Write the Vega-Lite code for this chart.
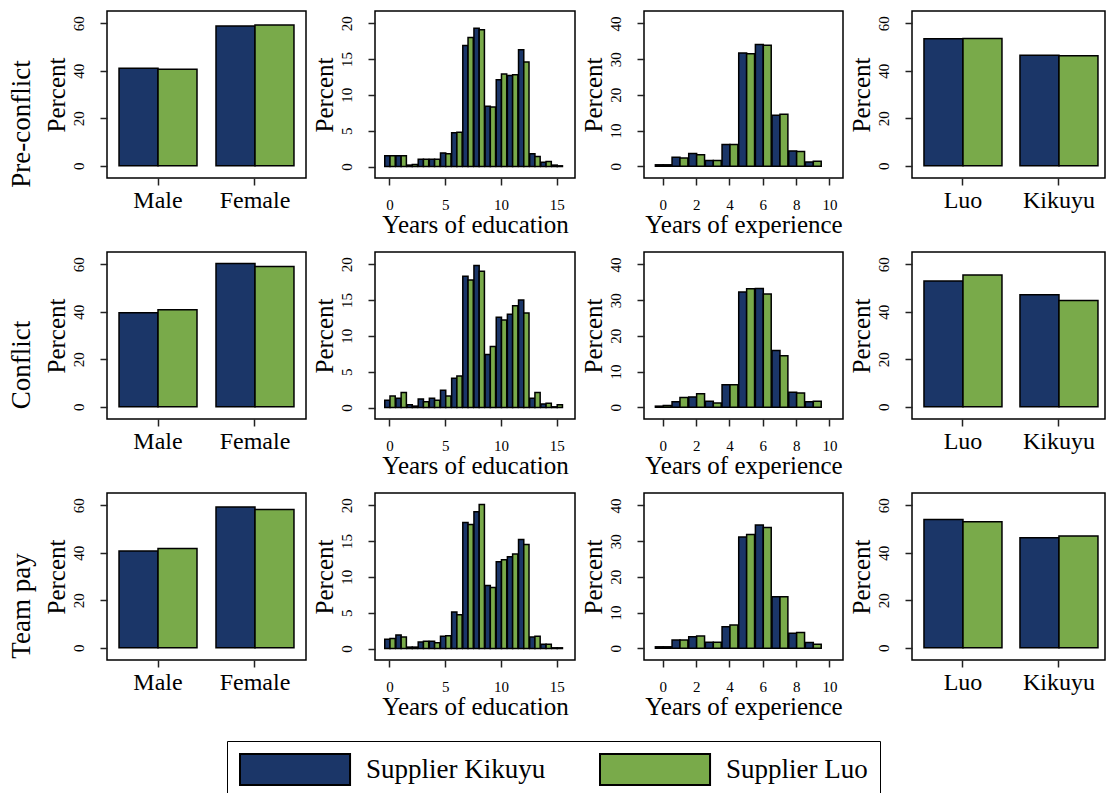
{
  "$schema": "https://vega.github.io/schema/vega-lite/v6.json",
  "padding": {"left": 8, "top": 10, "right": 0, "bottom": 0},
  "background": "white",
  "datasets": {
    "gender": [
      {"phase": "pre", "x": "Male", "group": "Supplier Kikuyu", "pct": 41.1},
      {"phase": "pre", "x": "Male", "group": "Supplier Luo", "pct": 40.6},
      {"phase": "pre", "x": "Female", "group": "Supplier Kikuyu", "pct": 58.9},
      {"phase": "pre", "x": "Female", "group": "Supplier Luo", "pct": 59.3},
      {"phase": "conflict", "x": "Male", "group": "Supplier Kikuyu", "pct": 39.6},
      {"phase": "conflict", "x": "Male", "group": "Supplier Luo", "pct": 40.9},
      {"phase": "conflict", "x": "Female", "group": "Supplier Kikuyu", "pct": 60.3},
      {"phase": "conflict", "x": "Female", "group": "Supplier Luo", "pct": 59.1},
      {"phase": "team", "x": "Male", "group": "Supplier Kikuyu", "pct": 40.7},
      {"phase": "team", "x": "Male", "group": "Supplier Luo", "pct": 41.8},
      {"phase": "team", "x": "Female", "group": "Supplier Kikuyu", "pct": 59.3},
      {"phase": "team", "x": "Female", "group": "Supplier Luo", "pct": 58.2}
    ],
    "eth": [
      {"phase": "pre", "x": "Luo", "group": "Supplier Kikuyu", "pct": 53.5},
      {"phase": "pre", "x": "Luo", "group": "Supplier Luo", "pct": 53.6},
      {"phase": "pre", "x": "Kikuyu", "group": "Supplier Kikuyu", "pct": 46.5},
      {"phase": "pre", "x": "Kikuyu", "group": "Supplier Luo", "pct": 46.3},
      {"phase": "conflict", "x": "Luo", "group": "Supplier Kikuyu", "pct": 53.0},
      {"phase": "conflict", "x": "Luo", "group": "Supplier Luo", "pct": 55.5},
      {"phase": "conflict", "x": "Kikuyu", "group": "Supplier Kikuyu", "pct": 47.2},
      {"phase": "conflict", "x": "Kikuyu", "group": "Supplier Luo", "pct": 44.8},
      {"phase": "team", "x": "Luo", "group": "Supplier Kikuyu", "pct": 54.0},
      {"phase": "team", "x": "Luo", "group": "Supplier Luo", "pct": 53.1},
      {"phase": "team", "x": "Kikuyu", "group": "Supplier Kikuyu", "pct": 46.3},
      {"phase": "team", "x": "Kikuyu", "group": "Supplier Luo", "pct": 47.1}
    ],
    "edu": [
      {"phase": "pre", "group": "Supplier Kikuyu", "x": 0, "pct": 1.5},
      {"phase": "pre", "group": "Supplier Kikuyu", "x": 1, "pct": 1.5},
      {"phase": "pre", "group": "Supplier Kikuyu", "x": 2, "pct": 0.2},
      {"phase": "pre", "group": "Supplier Kikuyu", "x": 3, "pct": 1.0},
      {"phase": "pre", "group": "Supplier Kikuyu", "x": 4, "pct": 1.0},
      {"phase": "pre", "group": "Supplier Kikuyu", "x": 5, "pct": 1.9},
      {"phase": "pre", "group": "Supplier Kikuyu", "x": 6, "pct": 4.7},
      {"phase": "pre", "group": "Supplier Kikuyu", "x": 7, "pct": 16.9},
      {"phase": "pre", "group": "Supplier Kikuyu", "x": 8, "pct": 19.3},
      {"phase": "pre", "group": "Supplier Kikuyu", "x": 9, "pct": 8.4},
      {"phase": "pre", "group": "Supplier Kikuyu", "x": 10, "pct": 12.1},
      {"phase": "pre", "group": "Supplier Kikuyu", "x": 11, "pct": 12.7},
      {"phase": "pre", "group": "Supplier Kikuyu", "x": 12, "pct": 16.3},
      {"phase": "pre", "group": "Supplier Kikuyu", "x": 13, "pct": 1.8},
      {"phase": "pre", "group": "Supplier Kikuyu", "x": 14, "pct": 0.6},
      {"phase": "pre", "group": "Supplier Kikuyu", "x": 15, "pct": 0.2},
      {"phase": "pre", "group": "Supplier Luo", "x": 0, "pct": 1.5},
      {"phase": "pre", "group": "Supplier Luo", "x": 1, "pct": 1.5},
      {"phase": "pre", "group": "Supplier Luo", "x": 2, "pct": 0.3},
      {"phase": "pre", "group": "Supplier Luo", "x": 3, "pct": 1.0},
      {"phase": "pre", "group": "Supplier Luo", "x": 4, "pct": 1.0},
      {"phase": "pre", "group": "Supplier Luo", "x": 5, "pct": 1.8},
      {"phase": "pre", "group": "Supplier Luo", "x": 6, "pct": 4.8},
      {"phase": "pre", "group": "Supplier Luo", "x": 7, "pct": 18.0},
      {"phase": "pre", "group": "Supplier Luo", "x": 8, "pct": 19.1},
      {"phase": "pre", "group": "Supplier Luo", "x": 9, "pct": 8.3},
      {"phase": "pre", "group": "Supplier Luo", "x": 10, "pct": 12.9},
      {"phase": "pre", "group": "Supplier Luo", "x": 11, "pct": 12.8},
      {"phase": "pre", "group": "Supplier Luo", "x": 12, "pct": 14.6},
      {"phase": "pre", "group": "Supplier Luo", "x": 13, "pct": 1.4},
      {"phase": "pre", "group": "Supplier Luo", "x": 14, "pct": 0.7},
      {"phase": "pre", "group": "Supplier Luo", "x": 15, "pct": 0.1},
      {"phase": "conflict", "group": "Supplier Kikuyu", "x": 0, "pct": 1.0},
      {"phase": "conflict", "group": "Supplier Kikuyu", "x": 1, "pct": 1.3},
      {"phase": "conflict", "group": "Supplier Kikuyu", "x": 2, "pct": 0.4},
      {"phase": "conflict", "group": "Supplier Kikuyu", "x": 3, "pct": 1.2},
      {"phase": "conflict", "group": "Supplier Kikuyu", "x": 4, "pct": 1.3},
      {"phase": "conflict", "group": "Supplier Kikuyu", "x": 5, "pct": 2.4},
      {"phase": "conflict", "group": "Supplier Kikuyu", "x": 6, "pct": 4.1},
      {"phase": "conflict", "group": "Supplier Kikuyu", "x": 7, "pct": 18.3},
      {"phase": "conflict", "group": "Supplier Kikuyu", "x": 8, "pct": 19.8},
      {"phase": "conflict", "group": "Supplier Kikuyu", "x": 9, "pct": 7.4},
      {"phase": "conflict", "group": "Supplier Kikuyu", "x": 10, "pct": 12.6},
      {"phase": "conflict", "group": "Supplier Kikuyu", "x": 11, "pct": 13.0},
      {"phase": "conflict", "group": "Supplier Kikuyu", "x": 12, "pct": 15.0},
      {"phase": "conflict", "group": "Supplier Kikuyu", "x": 13, "pct": 1.3},
      {"phase": "conflict", "group": "Supplier Kikuyu", "x": 14, "pct": 0.5},
      {"phase": "conflict", "group": "Supplier Kikuyu", "x": 15, "pct": 0.1},
      {"phase": "conflict", "group": "Supplier Luo", "x": 0, "pct": 1.6},
      {"phase": "conflict", "group": "Supplier Luo", "x": 1, "pct": 2.1},
      {"phase": "conflict", "group": "Supplier Luo", "x": 2, "pct": 0.2},
      {"phase": "conflict", "group": "Supplier Luo", "x": 3, "pct": 0.8},
      {"phase": "conflict", "group": "Supplier Luo", "x": 4, "pct": 1.0},
      {"phase": "conflict", "group": "Supplier Luo", "x": 5, "pct": 1.6},
      {"phase": "conflict", "group": "Supplier Luo", "x": 6, "pct": 4.4},
      {"phase": "conflict", "group": "Supplier Luo", "x": 7, "pct": 17.8},
      {"phase": "conflict", "group": "Supplier Luo", "x": 8, "pct": 19.0},
      {"phase": "conflict", "group": "Supplier Luo", "x": 9, "pct": 8.5},
      {"phase": "conflict", "group": "Supplier Luo", "x": 10, "pct": 12.2},
      {"phase": "conflict", "group": "Supplier Luo", "x": 11, "pct": 14.2},
      {"phase": "conflict", "group": "Supplier Luo", "x": 12, "pct": 13.2},
      {"phase": "conflict", "group": "Supplier Luo", "x": 13, "pct": 2.1},
      {"phase": "conflict", "group": "Supplier Luo", "x": 14, "pct": 0.6},
      {"phase": "conflict", "group": "Supplier Luo", "x": 15, "pct": 0.4},
      {"phase": "team", "group": "Supplier Kikuyu", "x": 0, "pct": 1.3},
      {"phase": "team", "group": "Supplier Kikuyu", "x": 1, "pct": 1.9},
      {"phase": "team", "group": "Supplier Kikuyu", "x": 2, "pct": 0.2},
      {"phase": "team", "group": "Supplier Kikuyu", "x": 3, "pct": 0.9},
      {"phase": "team", "group": "Supplier Kikuyu", "x": 4, "pct": 1.0},
      {"phase": "team", "group": "Supplier Kikuyu", "x": 5, "pct": 1.7},
      {"phase": "team", "group": "Supplier Kikuyu", "x": 6, "pct": 5.1},
      {"phase": "team", "group": "Supplier Kikuyu", "x": 7, "pct": 17.6},
      {"phase": "team", "group": "Supplier Kikuyu", "x": 8, "pct": 19.1},
      {"phase": "team", "group": "Supplier Kikuyu", "x": 9, "pct": 8.8},
      {"phase": "team", "group": "Supplier Kikuyu", "x": 10, "pct": 12.1},
      {"phase": "team", "group": "Supplier Kikuyu", "x": 11, "pct": 12.8},
      {"phase": "team", "group": "Supplier Kikuyu", "x": 12, "pct": 15.2},
      {"phase": "team", "group": "Supplier Kikuyu", "x": 13, "pct": 1.6},
      {"phase": "team", "group": "Supplier Kikuyu", "x": 14, "pct": 0.6},
      {"phase": "team", "group": "Supplier Kikuyu", "x": 15, "pct": 0.1},
      {"phase": "team", "group": "Supplier Luo", "x": 0, "pct": 1.4},
      {"phase": "team", "group": "Supplier Luo", "x": 1, "pct": 1.6},
      {"phase": "team", "group": "Supplier Luo", "x": 2, "pct": 0.2},
      {"phase": "team", "group": "Supplier Luo", "x": 3, "pct": 1.0},
      {"phase": "team", "group": "Supplier Luo", "x": 4, "pct": 0.8},
      {"phase": "team", "group": "Supplier Luo", "x": 5, "pct": 1.8},
      {"phase": "team", "group": "Supplier Luo", "x": 6, "pct": 4.7},
      {"phase": "team", "group": "Supplier Luo", "x": 7, "pct": 17.3},
      {"phase": "team", "group": "Supplier Luo", "x": 8, "pct": 20.1},
      {"phase": "team", "group": "Supplier Luo", "x": 9, "pct": 8.5},
      {"phase": "team", "group": "Supplier Luo", "x": 10, "pct": 12.4},
      {"phase": "team", "group": "Supplier Luo", "x": 11, "pct": 13.2},
      {"phase": "team", "group": "Supplier Luo", "x": 12, "pct": 14.5},
      {"phase": "team", "group": "Supplier Luo", "x": 13, "pct": 1.7},
      {"phase": "team", "group": "Supplier Luo", "x": 14, "pct": 0.6},
      {"phase": "team", "group": "Supplier Luo", "x": 15, "pct": 0.1}
    ],
    "exp": [
      {"phase": "pre", "group": "Supplier Kikuyu", "x": 0, "pct": 0.4},
      {"phase": "pre", "group": "Supplier Kikuyu", "x": 1, "pct": 2.5},
      {"phase": "pre", "group": "Supplier Kikuyu", "x": 2, "pct": 3.6},
      {"phase": "pre", "group": "Supplier Kikuyu", "x": 3, "pct": 1.6},
      {"phase": "pre", "group": "Supplier Kikuyu", "x": 4, "pct": 6.1},
      {"phase": "pre", "group": "Supplier Kikuyu", "x": 5, "pct": 31.7},
      {"phase": "pre", "group": "Supplier Kikuyu", "x": 6, "pct": 34.1},
      {"phase": "pre", "group": "Supplier Kikuyu", "x": 7, "pct": 14.3},
      {"phase": "pre", "group": "Supplier Kikuyu", "x": 8, "pct": 4.3},
      {"phase": "pre", "group": "Supplier Kikuyu", "x": 9, "pct": 1.2},
      {"phase": "pre", "group": "Supplier Luo", "x": 0, "pct": 0.4},
      {"phase": "pre", "group": "Supplier Luo", "x": 1, "pct": 2.3},
      {"phase": "pre", "group": "Supplier Luo", "x": 2, "pct": 3.2},
      {"phase": "pre", "group": "Supplier Luo", "x": 3, "pct": 1.6},
      {"phase": "pre", "group": "Supplier Luo", "x": 4, "pct": 6.1},
      {"phase": "pre", "group": "Supplier Luo", "x": 5, "pct": 31.5},
      {"phase": "pre", "group": "Supplier Luo", "x": 6, "pct": 33.9},
      {"phase": "pre", "group": "Supplier Luo", "x": 7, "pct": 14.6},
      {"phase": "pre", "group": "Supplier Luo", "x": 8, "pct": 4.1},
      {"phase": "pre", "group": "Supplier Luo", "x": 9, "pct": 1.4},
      {"phase": "conflict", "group": "Supplier Kikuyu", "x": 0, "pct": 0.3},
      {"phase": "conflict", "group": "Supplier Kikuyu", "x": 1, "pct": 1.5},
      {"phase": "conflict", "group": "Supplier Kikuyu", "x": 2, "pct": 2.9},
      {"phase": "conflict", "group": "Supplier Kikuyu", "x": 3, "pct": 1.7},
      {"phase": "conflict", "group": "Supplier Kikuyu", "x": 4, "pct": 6.3},
      {"phase": "conflict", "group": "Supplier Kikuyu", "x": 5, "pct": 32.3},
      {"phase": "conflict", "group": "Supplier Kikuyu", "x": 6, "pct": 33.3},
      {"phase": "conflict", "group": "Supplier Kikuyu", "x": 7, "pct": 15.9},
      {"phase": "conflict", "group": "Supplier Kikuyu", "x": 8, "pct": 4.2},
      {"phase": "conflict", "group": "Supplier Kikuyu", "x": 9, "pct": 1.5},
      {"phase": "conflict", "group": "Supplier Luo", "x": 0, "pct": 0.5},
      {"phase": "conflict", "group": "Supplier Luo", "x": 1, "pct": 2.7},
      {"phase": "conflict", "group": "Supplier Luo", "x": 2, "pct": 3.8},
      {"phase": "conflict", "group": "Supplier Luo", "x": 3, "pct": 1.2},
      {"phase": "conflict", "group": "Supplier Luo", "x": 4, "pct": 6.3},
      {"phase": "conflict", "group": "Supplier Luo", "x": 5, "pct": 33.2},
      {"phase": "conflict", "group": "Supplier Luo", "x": 6, "pct": 31.7},
      {"phase": "conflict", "group": "Supplier Luo", "x": 7, "pct": 14.4},
      {"phase": "conflict", "group": "Supplier Luo", "x": 8, "pct": 4.0},
      {"phase": "conflict", "group": "Supplier Luo", "x": 9, "pct": 1.7},
      {"phase": "team", "group": "Supplier Kikuyu", "x": 0, "pct": 0.4},
      {"phase": "team", "group": "Supplier Kikuyu", "x": 1, "pct": 2.3},
      {"phase": "team", "group": "Supplier Kikuyu", "x": 2, "pct": 3.2},
      {"phase": "team", "group": "Supplier Kikuyu", "x": 3, "pct": 1.7},
      {"phase": "team", "group": "Supplier Kikuyu", "x": 4, "pct": 6.0},
      {"phase": "team", "group": "Supplier Kikuyu", "x": 5, "pct": 31.2},
      {"phase": "team", "group": "Supplier Kikuyu", "x": 6, "pct": 34.5},
      {"phase": "team", "group": "Supplier Kikuyu", "x": 7, "pct": 14.4},
      {"phase": "team", "group": "Supplier Kikuyu", "x": 8, "pct": 4.2},
      {"phase": "team", "group": "Supplier Kikuyu", "x": 9, "pct": 1.6},
      {"phase": "team", "group": "Supplier Luo", "x": 0, "pct": 0.4},
      {"phase": "team", "group": "Supplier Luo", "x": 1, "pct": 2.3},
      {"phase": "team", "group": "Supplier Luo", "x": 2, "pct": 3.4},
      {"phase": "team", "group": "Supplier Luo", "x": 3, "pct": 1.7},
      {"phase": "team", "group": "Supplier Luo", "x": 4, "pct": 6.5},
      {"phase": "team", "group": "Supplier Luo", "x": 5, "pct": 31.9},
      {"phase": "team", "group": "Supplier Luo", "x": 6, "pct": 33.8},
      {"phase": "team", "group": "Supplier Luo", "x": 7, "pct": 14.4},
      {"phase": "team", "group": "Supplier Luo", "x": 8, "pct": 4.4},
      {"phase": "team", "group": "Supplier Luo", "x": 9, "pct": 1.1}
    ]
  },
  "spacing": 13,
  "resolve": {"scale": {"x": "independent", "y": "independent", "xOffset": "independent"}},
  "vconcat": [
    {
      "title": {"text": "Pre-conflict", "orient": "left", "anchor": "middle", "offset": 7},
      "spacing": 4,
      "resolve": {"scale": {"x": "independent", "y": "independent", "xOffset": "independent"}},
      "hconcat": [
        {"width": 199, "height": 167, "data": {"name": "gender"}, "transform": [{"filter": "datum.phase === 'pre'"}],
         "mark": {"type": "bar", "stroke": "black", "strokeWidth": 1.5},
         "encoding": {
           "x": {"field": "x", "type": "nominal", "title": null, "scale": {"domain": ["Male", "Female"], "paddingInner": 0.196, "paddingOuter": 0.124}, "axis": {"labelFontSize": 24}},
           "xOffset": {"field": "group", "type": "nominal", "scale": {"paddingInner": 0, "paddingOuter": 0}},
           "y": {"field": "pct", "type": "quantitative", "title": "Percent", "scale": {"domain": [-5.2, 65.2], "nice": false, "zero": false}, "axis": {"values": [0, 20, 40, 60]}},
           "y2": {"datum": 0},
           "color": {"field": "group", "type": "nominal", "scale": {"domain": ["Supplier Kikuyu", "Supplier Luo"], "range": ["#1b3668", "#79aa4a"]}}
         }},
        {"width": 200, "height": 167, "data": {"name": "edu"}, "transform": [{"filter": "datum.phase === 'pre'"}],
         "mark": {"type": "bar", "stroke": "black", "strokeWidth": 1.5},
         "encoding": {
           "x": {"field": "x", "type": "ordinal", "title": "Years of education", "scale": {"domain": [0,1,2,3,4,5,6,7,8,9,10,11,12,13,14,15], "paddingInner": 0.06, "paddingOuter": 1.12, "align": 0.4375}, "axis": {"values": [0, 5, 10, 15], "labelPadding": 12, "titlePadding": 0}},
           "xOffset": {"field": "group", "type": "nominal", "scale": {"paddingInner": 0, "paddingOuter": 0}},
           "y": {"field": "pct", "type": "quantitative", "title": "Percent", "scale": {"domain": [-1.6, 21.7], "nice": false, "zero": false}, "axis": {"values": [0, 5, 10, 15, 20]}},
           "y2": {"datum": 0},
           "color": {"field": "group", "type": "nominal", "scale": {"domain": ["Supplier Kikuyu", "Supplier Luo"], "range": ["#1b3668", "#79aa4a"]}}
         }},
        {"width": 199, "height": 167, "data": {"name": "exp"}, "transform": [{"filter": "datum.phase === 'pre'"}],
         "mark": {"type": "bar", "stroke": "black", "strokeWidth": 1.5},
         "encoding": {
           "x": {"field": "x", "type": "ordinal", "title": "Years of experience", "scale": {"domain": [0,1,2,3,4,5,6,7,8,9,10], "paddingInner": 0.05, "paddingOuter": 0.495, "align": 0.69}, "axis": {"values": [0, 2, 4, 6, 8, 10], "labelPadding": 12, "titlePadding": 0}},
           "xOffset": {"field": "group", "type": "nominal", "scale": {"paddingInner": 0, "paddingOuter": 0}},
           "y": {"field": "pct", "type": "quantitative", "title": "Percent", "scale": {"domain": [-3.3, 43.5], "nice": false, "zero": false}, "axis": {"values": [0, 10, 20, 30, 40]}},
           "y2": {"datum": 0},
           "color": {"field": "group", "type": "nominal", "scale": {"domain": ["Supplier Kikuyu", "Supplier Luo"], "range": ["#1b3668", "#79aa4a"]}}
         }},
        {"width": 193, "height": 167, "data": {"name": "eth"}, "transform": [{"filter": "datum.phase === 'pre'"}],
         "mark": {"type": "bar", "stroke": "black", "strokeWidth": 1.5},
         "encoding": {
           "x": {"field": "x", "type": "nominal", "title": null, "scale": {"domain": ["Luo", "Kikuyu"], "paddingInner": 0.1875, "paddingOuter": 0.099, "align": 0.63}, "axis": {"labelFontSize": 24}},
           "xOffset": {"field": "group", "type": "nominal", "scale": {"paddingInner": 0, "paddingOuter": 0}},
           "y": {"field": "pct", "type": "quantitative", "title": "Percent", "scale": {"domain": [-5.2, 65.2], "nice": false, "zero": false}, "axis": {"values": [0, 20, 40, 60]}},
           "y2": {"datum": 0},
           "color": {"field": "group", "type": "nominal", "scale": {"domain": ["Supplier Kikuyu", "Supplier Luo"], "range": ["#1b3668", "#79aa4a"]}}
         }}
      ]
    },
    {
      "title": {"text": "Conflict", "orient": "left", "anchor": "middle", "offset": 7},
      "spacing": 4,
      "resolve": {"scale": {"x": "independent", "y": "independent", "xOffset": "independent"}},
      "hconcat": [
        {"width": 199, "height": 167, "data": {"name": "gender"}, "transform": [{"filter": "datum.phase === 'conflict'"}],
         "mark": {"type": "bar", "stroke": "black", "strokeWidth": 1.5},
         "encoding": {
           "x": {"field": "x", "type": "nominal", "title": null, "scale": {"domain": ["Male", "Female"], "paddingInner": 0.196, "paddingOuter": 0.124}, "axis": {"labelFontSize": 24}},
           "xOffset": {"field": "group", "type": "nominal", "scale": {"paddingInner": 0, "paddingOuter": 0}},
           "y": {"field": "pct", "type": "quantitative", "title": "Percent", "scale": {"domain": [-5.2, 65.2], "nice": false, "zero": false}, "axis": {"values": [0, 20, 40, 60]}},
           "y2": {"datum": 0},
           "color": {"field": "group", "type": "nominal", "scale": {"domain": ["Supplier Kikuyu", "Supplier Luo"], "range": ["#1b3668", "#79aa4a"]}}
         }},
        {"width": 200, "height": 167, "data": {"name": "edu"}, "transform": [{"filter": "datum.phase === 'conflict'"}],
         "mark": {"type": "bar", "stroke": "black", "strokeWidth": 1.5},
         "encoding": {
           "x": {"field": "x", "type": "ordinal", "title": "Years of education", "scale": {"domain": [0,1,2,3,4,5,6,7,8,9,10,11,12,13,14,15], "paddingInner": 0.06, "paddingOuter": 1.12, "align": 0.4375}, "axis": {"values": [0, 5, 10, 15], "labelPadding": 12, "titlePadding": 0}},
           "xOffset": {"field": "group", "type": "nominal", "scale": {"paddingInner": 0, "paddingOuter": 0}},
           "y": {"field": "pct", "type": "quantitative", "title": "Percent", "scale": {"domain": [-1.6, 21.7], "nice": false, "zero": false}, "axis": {"values": [0, 5, 10, 15, 20]}},
           "y2": {"datum": 0},
           "color": {"field": "group", "type": "nominal", "scale": {"domain": ["Supplier Kikuyu", "Supplier Luo"], "range": ["#1b3668", "#79aa4a"]}}
         }},
        {"width": 199, "height": 167, "data": {"name": "exp"}, "transform": [{"filter": "datum.phase === 'conflict'"}],
         "mark": {"type": "bar", "stroke": "black", "strokeWidth": 1.5},
         "encoding": {
           "x": {"field": "x", "type": "ordinal", "title": "Years of experience", "scale": {"domain": [0,1,2,3,4,5,6,7,8,9,10], "paddingInner": 0.05, "paddingOuter": 0.495, "align": 0.69}, "axis": {"values": [0, 2, 4, 6, 8, 10], "labelPadding": 12, "titlePadding": 0}},
           "xOffset": {"field": "group", "type": "nominal", "scale": {"paddingInner": 0, "paddingOuter": 0}},
           "y": {"field": "pct", "type": "quantitative", "title": "Percent", "scale": {"domain": [-3.3, 43.5], "nice": false, "zero": false}, "axis": {"values": [0, 10, 20, 30, 40]}},
           "y2": {"datum": 0},
           "color": {"field": "group", "type": "nominal", "scale": {"domain": ["Supplier Kikuyu", "Supplier Luo"], "range": ["#1b3668", "#79aa4a"]}}
         }},
        {"width": 193, "height": 167, "data": {"name": "eth"}, "transform": [{"filter": "datum.phase === 'conflict'"}],
         "mark": {"type": "bar", "stroke": "black", "strokeWidth": 1.5},
         "encoding": {
           "x": {"field": "x", "type": "nominal", "title": null, "scale": {"domain": ["Luo", "Kikuyu"], "paddingInner": 0.1875, "paddingOuter": 0.099, "align": 0.63}, "axis": {"labelFontSize": 24}},
           "xOffset": {"field": "group", "type": "nominal", "scale": {"paddingInner": 0, "paddingOuter": 0}},
           "y": {"field": "pct", "type": "quantitative", "title": "Percent", "scale": {"domain": [-5.2, 65.2], "nice": false, "zero": false}, "axis": {"values": [0, 20, 40, 60]}},
           "y2": {"datum": 0},
           "color": {"field": "group", "type": "nominal", "scale": {"domain": ["Supplier Kikuyu", "Supplier Luo"], "range": ["#1b3668", "#79aa4a"]}}
         }}
      ]
    },
    {
      "title": {"text": "Team pay", "orient": "left", "anchor": "middle", "offset": 7},
      "spacing": 4,
      "resolve": {"scale": {"x": "independent", "y": "independent", "xOffset": "independent"}},
      "hconcat": [
        {"width": 199, "height": 167, "data": {"name": "gender"}, "transform": [{"filter": "datum.phase === 'team'"}],
         "mark": {"type": "bar", "stroke": "black", "strokeWidth": 1.5},
         "encoding": {
           "x": {"field": "x", "type": "nominal", "title": null, "scale": {"domain": ["Male", "Female"], "paddingInner": 0.196, "paddingOuter": 0.124}, "axis": {"labelFontSize": 24}},
           "xOffset": {"field": "group", "type": "nominal", "scale": {"paddingInner": 0, "paddingOuter": 0}},
           "y": {"field": "pct", "type": "quantitative", "title": "Percent", "scale": {"domain": [-5.2, 65.2], "nice": false, "zero": false}, "axis": {"values": [0, 20, 40, 60]}},
           "y2": {"datum": 0},
           "color": {"field": "group", "type": "nominal", "scale": {"domain": ["Supplier Kikuyu", "Supplier Luo"], "range": ["#1b3668", "#79aa4a"]}}
         }},
        {"width": 200, "height": 167, "data": {"name": "edu"}, "transform": [{"filter": "datum.phase === 'team'"}],
         "mark": {"type": "bar", "stroke": "black", "strokeWidth": 1.5},
         "encoding": {
           "x": {"field": "x", "type": "ordinal", "title": "Years of education", "scale": {"domain": [0,1,2,3,4,5,6,7,8,9,10,11,12,13,14,15], "paddingInner": 0.06, "paddingOuter": 1.12, "align": 0.4375}, "axis": {"values": [0, 5, 10, 15], "labelPadding": 12, "titlePadding": 0}},
           "xOffset": {"field": "group", "type": "nominal", "scale": {"paddingInner": 0, "paddingOuter": 0}},
           "y": {"field": "pct", "type": "quantitative", "title": "Percent", "scale": {"domain": [-1.6, 21.7], "nice": false, "zero": false}, "axis": {"values": [0, 5, 10, 15, 20]}},
           "y2": {"datum": 0},
           "color": {"field": "group", "type": "nominal", "scale": {"domain": ["Supplier Kikuyu", "Supplier Luo"], "range": ["#1b3668", "#79aa4a"]}}
         }},
        {"width": 199, "height": 167, "data": {"name": "exp"}, "transform": [{"filter": "datum.phase === 'team'"}],
         "mark": {"type": "bar", "stroke": "black", "strokeWidth": 1.5},
         "encoding": {
           "x": {"field": "x", "type": "ordinal", "title": "Years of experience", "scale": {"domain": [0,1,2,3,4,5,6,7,8,9,10], "paddingInner": 0.05, "paddingOuter": 0.495, "align": 0.69}, "axis": {"values": [0, 2, 4, 6, 8, 10], "labelPadding": 12, "titlePadding": 0}},
           "xOffset": {"field": "group", "type": "nominal", "scale": {"paddingInner": 0, "paddingOuter": 0}},
           "y": {"field": "pct", "type": "quantitative", "title": "Percent", "scale": {"domain": [-3.3, 43.5], "nice": false, "zero": false}, "axis": {"values": [0, 10, 20, 30, 40]}},
           "y2": {"datum": 0},
           "color": {"field": "group", "type": "nominal", "scale": {"domain": ["Supplier Kikuyu", "Supplier Luo"], "range": ["#1b3668", "#79aa4a"]}}
         }},
        {"width": 193, "height": 167, "data": {"name": "eth"}, "transform": [{"filter": "datum.phase === 'team'"}],
         "mark": {"type": "bar", "stroke": "black", "strokeWidth": 1.5},
         "encoding": {
           "x": {"field": "x", "type": "nominal", "title": null, "scale": {"domain": ["Luo", "Kikuyu"], "paddingInner": 0.1875, "paddingOuter": 0.099, "align": 0.63}, "axis": {"labelFontSize": 24}},
           "xOffset": {"field": "group", "type": "nominal", "scale": {"paddingInner": 0, "paddingOuter": 0}},
           "y": {"field": "pct", "type": "quantitative", "title": "Percent", "scale": {"domain": [-5.2, 65.2], "nice": false, "zero": false}, "axis": {"values": [0, 20, 40, 60]}},
           "y2": {"datum": 0},
           "color": {"field": "group", "type": "nominal", "scale": {"domain": ["Supplier Kikuyu", "Supplier Luo"], "range": ["#1b3668", "#79aa4a"]}}
         }}
      ]
    }
  ],
  "config": {
    "font": "Liberation Serif",
    "view": {"stroke": "black", "strokeWidth": 1.5},
    "axis": {"grid": false, "domain": false, "tickColor": "#222", "tickSize": 7, "tickWidth": 1.5, "labelColor": "black", "titleColor": "black", "labelFont": "Liberation Serif", "titleFont": "Liberation Serif", "titleFontWeight": "normal", "labelFontSize": 15, "titleFontSize": 25, "labelPadding": 3},
    "axisX": {"labelAngle": 0, "titlePadding": 3},
    "axisY": {"labelAngle": -90, "titlePadding": 2, "labelPadding": 14},
    "title": {"font": "Liberation Serif", "fontSize": 27, "fontWeight": "normal", "color": "black"},
    "legend": {"orient": "none", "legendX": 120, "legendY": 730, "direction": "horizontal", "title": null, "labelFont": "Liberation Serif", "labelFontSize": 27, "labelColor": "black", "labelLimit": 0, "symbolType": "M-1,-1H6.1V1H-1Z", "symbolSize": 961, "symbolStrokeColor": "black", "symbolStrokeWidth": 2, "symbolOpacity": 1, "labelOffset": 94, "columnPadding": 50, "strokeColor": "black", "padding": 12}
  }
}
